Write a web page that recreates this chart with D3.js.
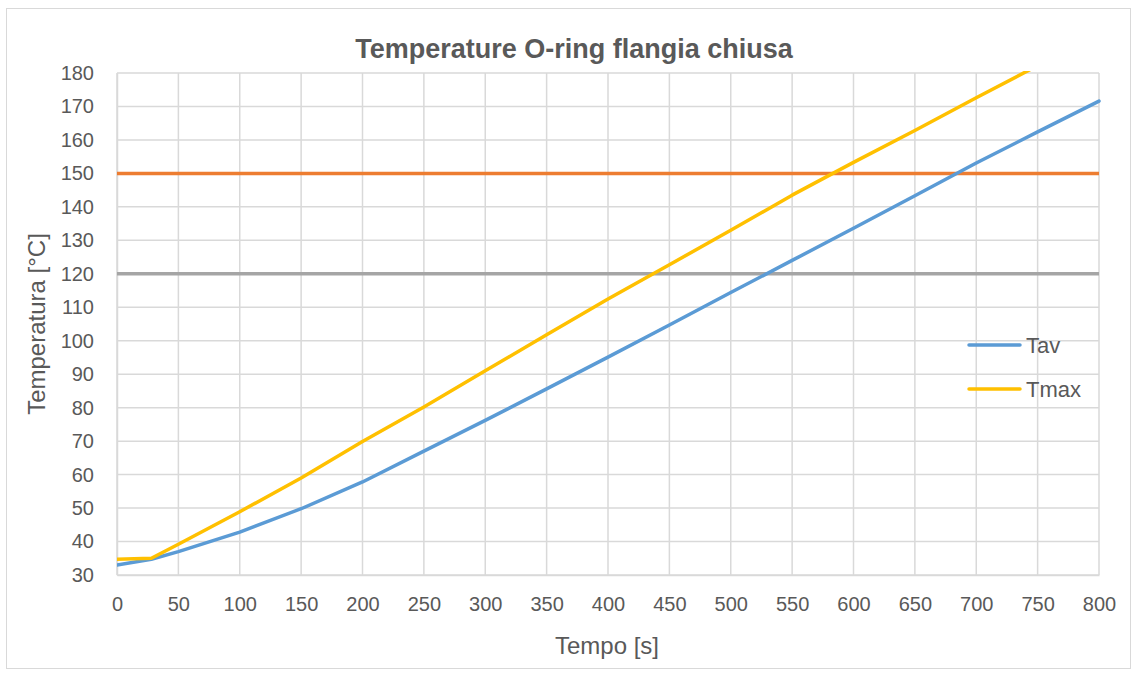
<!DOCTYPE html>
<html>
<head>
<meta charset="utf-8">
<script src="https://cdn.jsdelivr.net/npm/d3@7"></script>
<style>
  html, body { margin: 0; padding: 0; background: #ffffff; }
  svg { display: block; }
  text { font-family: "Liberation Sans", "DejaVu Sans", sans-serif; fill: #595959; }
</style>
</head>
<body>
<svg id="chart" width="1138" height="676"></svg>
<script>
// Time samples [s]
const tempo = [0, 28, 50, 100, 150, 200, 250, 300, 350, 400, 450, 500, 550, 600, 650, 700, 750, 800];
// Average O-ring temperature [°C]
const tav = [33.0, 34.7, 37.0, 42.8, 49.8, 57.8, 67.0, 76.2, 85.6, 95.1, 104.7, 114.4, 124.0, 133.6, 143.3, 153.1, 162.4, 171.6];
// Maximum O-ring temperature [°C]
const tmax = [34.7, 35.0, 39.2, 48.9, 59.0, 69.9, 80.2, 91.0, 101.8, 112.5, 122.7, 133.0, 143.5, 153.3, 162.8, 172.6, 182.2, 191.7];
// Reference limits [°C]
const limite150 = [150, 150];
const limite120 = [120, 120];
const limiteTempo = [0, 800];

const xTicks = d3.range(0, 801, 50);
const yTicks = d3.range(30, 181, 10);
const legendLabels = ["Tav", "Tmax"];

const colors = { tav: "#5B9BD5", tmax: "#FFC000", l150: "#ED7D31", l120: "#A5A5A5" };

const svg = d3.select("#chart");
const plot = { left: 117, right: 1099, top: 73, bottom: 575 };

// chart frame
svg.append("rect")
  .attr("x", 6.5).attr("y", 8.5)
  .attr("width", 1124).attr("height", 660)
  .attr("fill", "#ffffff").attr("stroke", "#D9D9D9").attr("stroke-width", 1);

const x = d3.scaleLinear().domain([0, 800]).range([plot.left, plot.right]);
const y = d3.scaleLinear().domain([30, 180]).range([plot.bottom, plot.top]);

// gridlines
const grid = svg.append("g").attr("class", "grid");
grid.selectAll("line.v").data(xTicks).join("line")
  .attr("x1", d => x(d)).attr("x2", d => x(d))
  .attr("y1", plot.top).attr("y2", plot.bottom)
  .attr("stroke", "#D9D9D9").attr("stroke-width", 1.5);
grid.selectAll("line.h").data(yTicks).join("line")
  .attr("x1", plot.left).attr("x2", plot.right)
  .attr("y1", d => y(d)).attr("y2", d => y(d))
  .attr("stroke", "#D9D9D9").attr("stroke-width", 1.5);

// axes (labels only)
const xAxis = svg.append("g")
  .attr("transform", `translate(0,${plot.bottom})`)
  .call(d3.axisBottom(x).tickValues(xTicks).tickSize(0).tickPadding(22).tickFormat(d3.format("d")));
xAxis.select(".domain").attr("stroke", "#D9D9D9").attr("stroke-width", 1.5);
xAxis.selectAll("text").style("font-size", "20px").attr("fill", "#595959");

const yAxis = svg.append("g")
  .attr("transform", `translate(${plot.left},0)`)
  .call(d3.axisLeft(y).tickValues(yTicks).tickSize(0).tickPadding(23).tickFormat(d3.format("d")));
yAxis.select(".domain").attr("stroke", "#D9D9D9").attr("stroke-width", 1.5);
yAxis.selectAll("text").style("font-size", "20px").attr("fill", "#595959");

// clip to plot area
svg.append("defs").append("clipPath").attr("id", "plotClip")
  .append("rect")
  .attr("x", plot.left).attr("y", plot.top - 2)
  .attr("width", plot.right - plot.left + 2).attr("height", plot.bottom - plot.top + 4);

const series = svg.append("g").attr("clip-path", "url(#plotClip)");
const line = d3.line().x(d => x(d[0])).y(d => y(d[1]));

series.append("path")
  .datum(d3.zip(limiteTempo, limite120))
  .attr("d", line).attr("fill", "none")
  .attr("stroke", colors.l120).attr("stroke-width", 3.5);
series.append("path")
  .datum(d3.zip(limiteTempo, limite150))
  .attr("d", line).attr("fill", "none")
  .attr("stroke", colors.l150).attr("stroke-width", 3.5);
series.append("path")
  .datum(d3.zip(tempo, tav))
  .attr("d", line).attr("fill", "none")
  .attr("stroke", colors.tav).attr("stroke-width", 3.5)
  .attr("stroke-linejoin", "round").attr("stroke-linecap", "round");
series.append("path")
  .datum(d3.zip(tempo, tmax))
  .attr("d", line).attr("fill", "none")
  .attr("stroke", colors.tmax).attr("stroke-width", 3.5)
  .attr("stroke-linejoin", "round").attr("stroke-linecap", "round");

// title
svg.append("text")
  .attr("x", 574).attr("y", 58)
  .attr("text-anchor", "middle")
  .style("font-size", "27px").style("font-weight", "bold")
  .text("Temperature O-ring flangia chiusa");

// axis titles
svg.append("text")
  .attr("x", 607).attr("y", 654)
  .attr("text-anchor", "middle")
  .style("font-size", "24px")
  .text("Tempo [s]");
svg.append("text")
  .attr("transform", `translate(45,${(plot.top + plot.bottom) / 2}) rotate(-90)`)
  .attr("text-anchor", "middle")
  .style("font-size", "24px")
  .text("Temperatura [°C]");

// legend
const legend = svg.append("g");
const legendColors = [colors.tav, colors.tmax];
legendLabels.forEach((lab, i) => {
  const ly = 345 + i * 44;
  legend.append("line")
    .attr("x1", 969).attr("x2", 1020)
    .attr("y1", ly).attr("y2", ly)
    .attr("stroke", legendColors[i]).attr("stroke-width", 3.5)
    .attr("stroke-linecap", "round");
  legend.append("text")
    .attr("x", 1026).attr("y", ly + 8)
    .style("font-size", "22px")
    .text(lab);
});
</script>
</body>
</html>
